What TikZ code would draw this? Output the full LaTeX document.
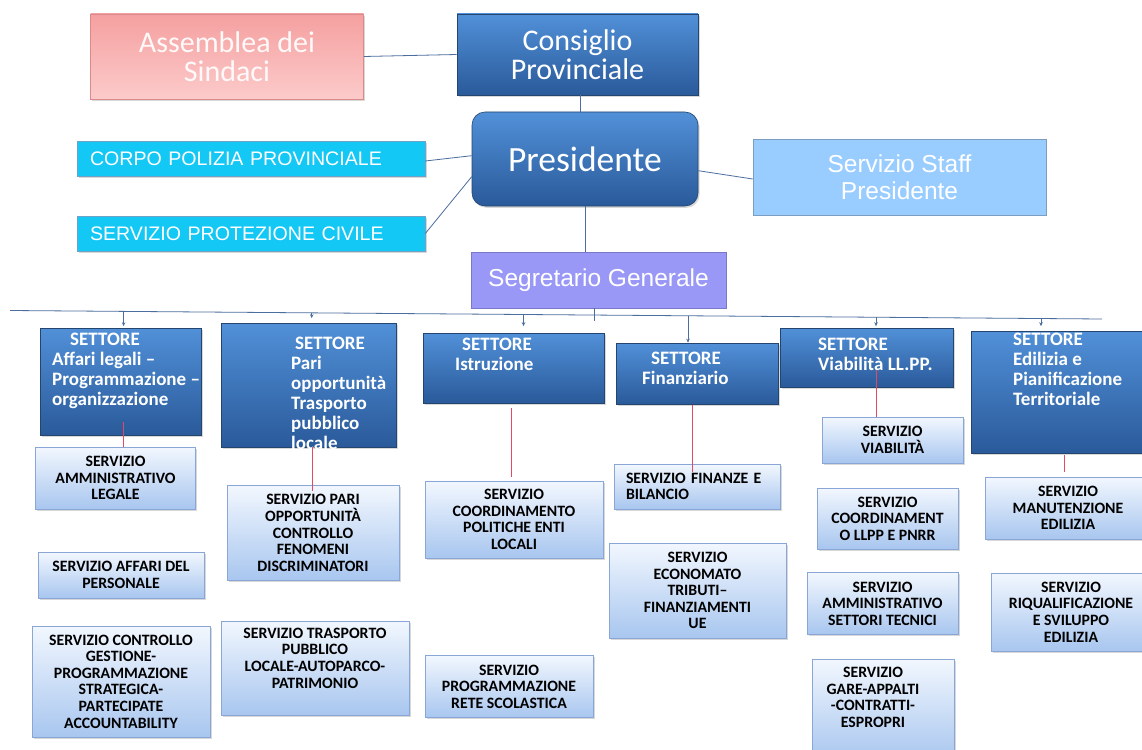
\documentclass[tikz,border=0pt]{standalone}
\usepackage{fontspec}
\setmainfont{Carlito}
\newfontfamily\arialf{Liberation Sans}
\usetikzlibrary{arrows.meta,shadows,calc}
\definecolor{setTop}{HTML}{5190D8}
\definecolor{setBot}{HTML}{2A5A9A}
\definecolor{setBorder}{HTML}{24466E}
\definecolor{svcTop}{HTML}{F2F7FE}
\definecolor{svcBot}{HTML}{A8C6EF}
\definecolor{svcBorder}{HTML}{8AA6D6}
\definecolor{pinkTop}{HTML}{F5A0A0}
\definecolor{pinkBot}{HTML}{FCCACA}
\definecolor{pinkBorder}{HTML}{DA8A8A}
\definecolor{cyanFill}{HTML}{14C8F5}
\definecolor{cyanBorder}{HTML}{6FA2C4}
\definecolor{staffFill}{HTML}{99CCFF}
\definecolor{staffBorder}{HTML}{7C9CC0}
\definecolor{segFill}{HTML}{9A98F6}
\definecolor{segBorder}{HTML}{7A78C8}
\definecolor{linkCol}{HTML}{4A6E9E}
\definecolor{redCol}{HTML}{E24A64}
\begin{document}
\begin{tikzpicture}[x=1pt,y=-1pt,
  shadowed/.style={drop shadow={shadow xshift=1.5pt,shadow yshift=-1.8pt,opacity=0.3}},
  topbox/.style={draw=setBorder,line width=0.6pt,top color=setTop,bottom color=setBot,
     text=white,inner sep=0pt,align=center,shadowed},
  settore/.style={draw=setBorder,line width=0.6pt,top color=setTop,bottom color=setBot,
     inner sep=0pt,shadowed},
  settxt/.style={text=white,font=\bfseries\fontsize{19}{20}\selectfont,align=left,
     inner sep=0pt,anchor=north west},
  svc/.style={draw=svcBorder,line width=0.6pt,top color=svcTop,bottom color=svcBot,
     inner sep=0pt,align=center,font=\bfseries\fontsize{15.8}{16.6}\selectfont,shadowed},
  svctxt/.style={inner sep=0pt,align=center,font=\bfseries\fontsize{15.8}{16.6}\selectfont},
  link/.style={draw=linkCol,line width=0.8pt},
  redlink/.style={draw=redCol,line width=0.8pt},
  stub/.style={draw=linkCol,line width=0.7pt,-{Stealth[length=4pt,width=3.5pt]}}
]
\useasboundingbox (0,0) rectangle (1142,749);
\fill[white] (0,0) rectangle (1142,749);

% ---- top level
\node[draw=pinkBorder,line width=0.6pt,top color=pinkTop,bottom color=pinkBot,
      minimum width=273pt,minimum height=85pt,inner sep=0pt,align=center,
      text=white!90!pink,font=\fontsize{30}{29}\selectfont,shadowed]
      (ass) at (227,56.5) {Assemblea dei\\Sindaci};
\node[topbox,minimum width=241pt,minimum height=81pt,font=\fontsize{30}{29}\selectfont]
      (cons) at (577.5,54.5) {Consiglio\\Provinciale};
\node[topbox,rounded corners=13pt,minimum width=226pt,minimum height=94pt,
      font=\fontsize{35.5}{36}\selectfont] (pres) at (585,159) {Presidente};
\node[fill=cyanFill,draw=cyanBorder,line width=0.6pt,minimum width=348pt,minimum height=35pt,
      inner xsep=13pt,inner ysep=0pt,text width=322pt,align=left,text=white,
      font=\arialf\fontsize{19.6}{20}\selectfont,shadowed]
      (pol) at (251,158.5) {CORPO POLIZIA PROVINCIALE};
\node[fill=cyanFill,draw=cyanBorder,line width=0.6pt,minimum width=348pt,minimum height=35pt,
      inner xsep=13pt,inner ysep=0pt,text width=322pt,align=left,text=white,
      font=\arialf\fontsize{19.6}{20}\selectfont,shadowed]
      (prot) at (251,233.5) {SERVIZIO PROTEZIONE CIVILE};
\node[fill=staffFill,draw=staffBorder,line width=0.6pt,minimum width=293pt,minimum height=76pt,
      inner sep=0pt,align=center,text=white,font=\arialf\fontsize{24.5}{27.5}\selectfont]
      (staff) at (899.5,177) {Servizio Staff\\Presidente};
\node[fill=segFill,draw=segBorder,line width=0.6pt,minimum width=255pt,minimum height=56pt,
      inner sep=0pt,text=white,font=\arialf\fontsize{24.5}{24}\selectfont]
      (seg) at (598.5,280) {Segretario Generale};

% ---- top connectors
\coordinate (cp) at (580,0);
\draw[link] (ass.east) -- (cons.west);
\draw[link] (cons.south -| cp) -- (pres.north -| cp);
\draw[link] ([yshift=-2.5pt]pol.east) -- ([yshift=3.3pt]pres.west);
\draw[link] (prot.east) -- ([yshift=-17.7pt]pres.west);
\draw[link] ([yshift=-11.7pt]pres.east) -- ([yshift=-2pt]staff.west);
\draw[link] (pres.south) -- (seg.north -| pres.south);

% ---- bus
\coordinate (busL) at (10,310.5);
\coordinate (busR) at (1102,319);
\draw[link] (busL) -- (busR);
\coordinate (segb) at (594,320.5);
\draw[link] (seg.south -| segb) -- (segb);

% ---- settori
\node[settore,minimum width=161pt,minimum height=107pt] (s1) at (120.5,381.5) {};
\node[settore,minimum width=175pt,minimum height=124pt] (s2) at (308.5,385) {};
\node[settore,minimum width=181pt,minimum height=70pt] (s3) at (513.5,368) {};
\node[settore,minimum width=162pt,minimum height=61pt] (s4) at (697,373.5) {};
\node[settore,minimum width=173pt,minimum height=59pt] (s5) at (866.5,357.5) {};
\node[settore,minimum width=190pt,minimum height=122pt] (s6) at (1066,392) {};

\node[settxt] (s1t) at (52,333) {\hspace*{18pt}SETTORE\\Affari legali –\\Programmazione –\\organizzazione};
\node[settxt] (s2t) at (291,337) {\hspace*{4pt}SETTORE\\Pari\\opportunità\\Trasporto\\pubblico\\locale};
\node[settxt] (s3t) at (455,338) {\hspace*{7pt}SETTORE\\Istruzione};
\node[settxt] (s4t) at (642,352) {\hspace*{9pt}SETTORE\\Finanziario};
\node[settxt] (s5t) at (818,338) {SETTORE\\Viabilità LL.PP.};
\node[settxt] (s6t) at (1013,333) {SETTORE\\Edilizia e\\Pianificazione\\Territoriale};

% ---- stubs from bus
\coordinate (b1) at (123.6,311.4);
\coordinate (b2) at (311.7,312.9);
\coordinate (b3) at (523.5,314.5);
\coordinate (b4) at (688,315.8);
\coordinate (b5) at (876,317.2);
\coordinate (b6) at (1041,318.5);
\draw[stub,shorten >=1.5pt] (b1) -- (b1 |- s1.north);
\draw[stub,shorten >=4.5pt] (b2) -- (b2 |- s2.north);
\draw[stub,shorten >=6.5pt] (b3) -- (b3 |- s3.north);
\draw[stub] (b4) -- (b4 |- s4.north);
\draw[stub,shorten >=1.5pt] (b5) -- (b5 |- s5.north);
\draw[stub,shorten >=4.5pt] (b6) -- (b6 |- s6.north);

% ---- servizi
\node[svc,minimum width=160pt,minimum height=62pt] (c1a) at (115.5,478) {SERVIZIO\\AMMINISTRATIVO\\LEGALE};
\node[svc,minimum width=166pt,minimum height=46pt] (c1b) at (121,575) {SERVIZIO AFFARI DEL\\PERSONALE};
\node[svc,minimum width=178pt,minimum height=111pt] (c1c) at (121,681.5) {SERVIZIO CONTROLLO\\GESTIONE-\\PROGRAMMAZIONE\\STRATEGICA-\\PARTECIPATE\\ACCOUNTABILITY};
\node[svc,minimum width=172pt,minimum height=95pt] (c2a) at (313,533) {SERVIZIO PARI\\OPPORTUNITÀ\\CONTROLLO\\FENOMENI\\DISCRIMINATORI};
\node[svc,minimum width=188pt,minimum height=94pt] (c2b) at (315,668) {};
\node[svctxt] (c2bt) at (315,658) {SERVIZIO TRASPORTO\\PUBBLICO\\LOCALE-AUTOPARCO-\\PATRIMONIO};
\node[svc,minimum width=178pt,minimum height=77pt] (c3a) at (514,519.5) {SERVIZIO\\COORDINAMENTO\\POLITICHE ENTI\\LOCALI};
\node[svc,minimum width=168pt,minimum height=62pt] (c3b) at (509,686.5) {SERVIZIO\\PROGRAMMAZIONE\\RETE SCOLASTICA};
\node[svc,minimum width=166pt,minimum height=45pt,align=left,inner xsep=12pt,text width=142pt] (c4a) at (697,486.5) {SERVIZIO FINANZE E\\BILANCIO};
\node[svc,minimum width=177pt,minimum height=95pt] (c4b) at (697.5,590.5) {SERVIZIO\\ECONOMATO\\TRIBUTI–\\FINANZIAMENTI\\UE};
\node[svc,minimum width=141pt,minimum height=46pt] (c5a) at (892.5,440) {SERVIZIO\\VIABILITÀ};
\node[svc,minimum width=141pt,minimum height=61pt] (c5b) at (887.5,518.5) {SERVIZIO\\COORDINAMENT\\O LLPP E PNRR};
\node[svc,minimum width=151pt,minimum height=62pt] (c5c) at (882.5,603.5) {SERVIZIO\\AMMINISTRATIVO\\SETTORI TECNICI};
\node[svc,minimum width=142pt,minimum height=102pt] (c5d) at (883,710) {};
\node[svctxt] (c5dt) at (873,697.5) {SERVIZIO\\GARE-APPALTI\\-CONTRATTI-\\ESPROPRI};
\node[svc,minimum width=165pt,minimum height=62pt] (c6a) at (1068,508) {SERVIZIO\\MANUTENZIONE\\EDILIZIA};
\node[svc,minimum width=160pt,minimum height=78pt] (c6b) at (1071,612) {SERVIZIO\\RIQUALIFICAZIONE\\E SVILUPPO\\EDILIZIA};

% ---- red connectors
\coordinate (r1) at (123,0);
\coordinate (r2) at (312,0);
\coordinate (r3) at (511,0);
\coordinate (r4) at (692,0);
\coordinate (r5) at (876,0);
\coordinate (r6) at (1064,0);
\draw[redlink] ([yshift=13pt]s1.south -| r1) -- (c1a.north -| r1);
\draw[redlink] (s2.south -| r2) -- ([yshift=-6pt]c2a.north -| r2);
\draw[redlink] ([yshift=-5pt]s3.south -| r3) -- ([yshift=3.5pt]c3a.north -| r3);
\draw[redlink] ([yshift=-1pt]s4.south -| r4) -- ([yshift=-8pt]c4a.north -| r4);
\draw[redlink] ([yshift=17pt]s5.south -| r5) -- (c5a.north -| r5);
\draw[redlink] ([yshift=-2pt]s6.south -| r6) -- ([yshift=5pt]c6a.north -| r6);
\end{tikzpicture}
\end{document}
